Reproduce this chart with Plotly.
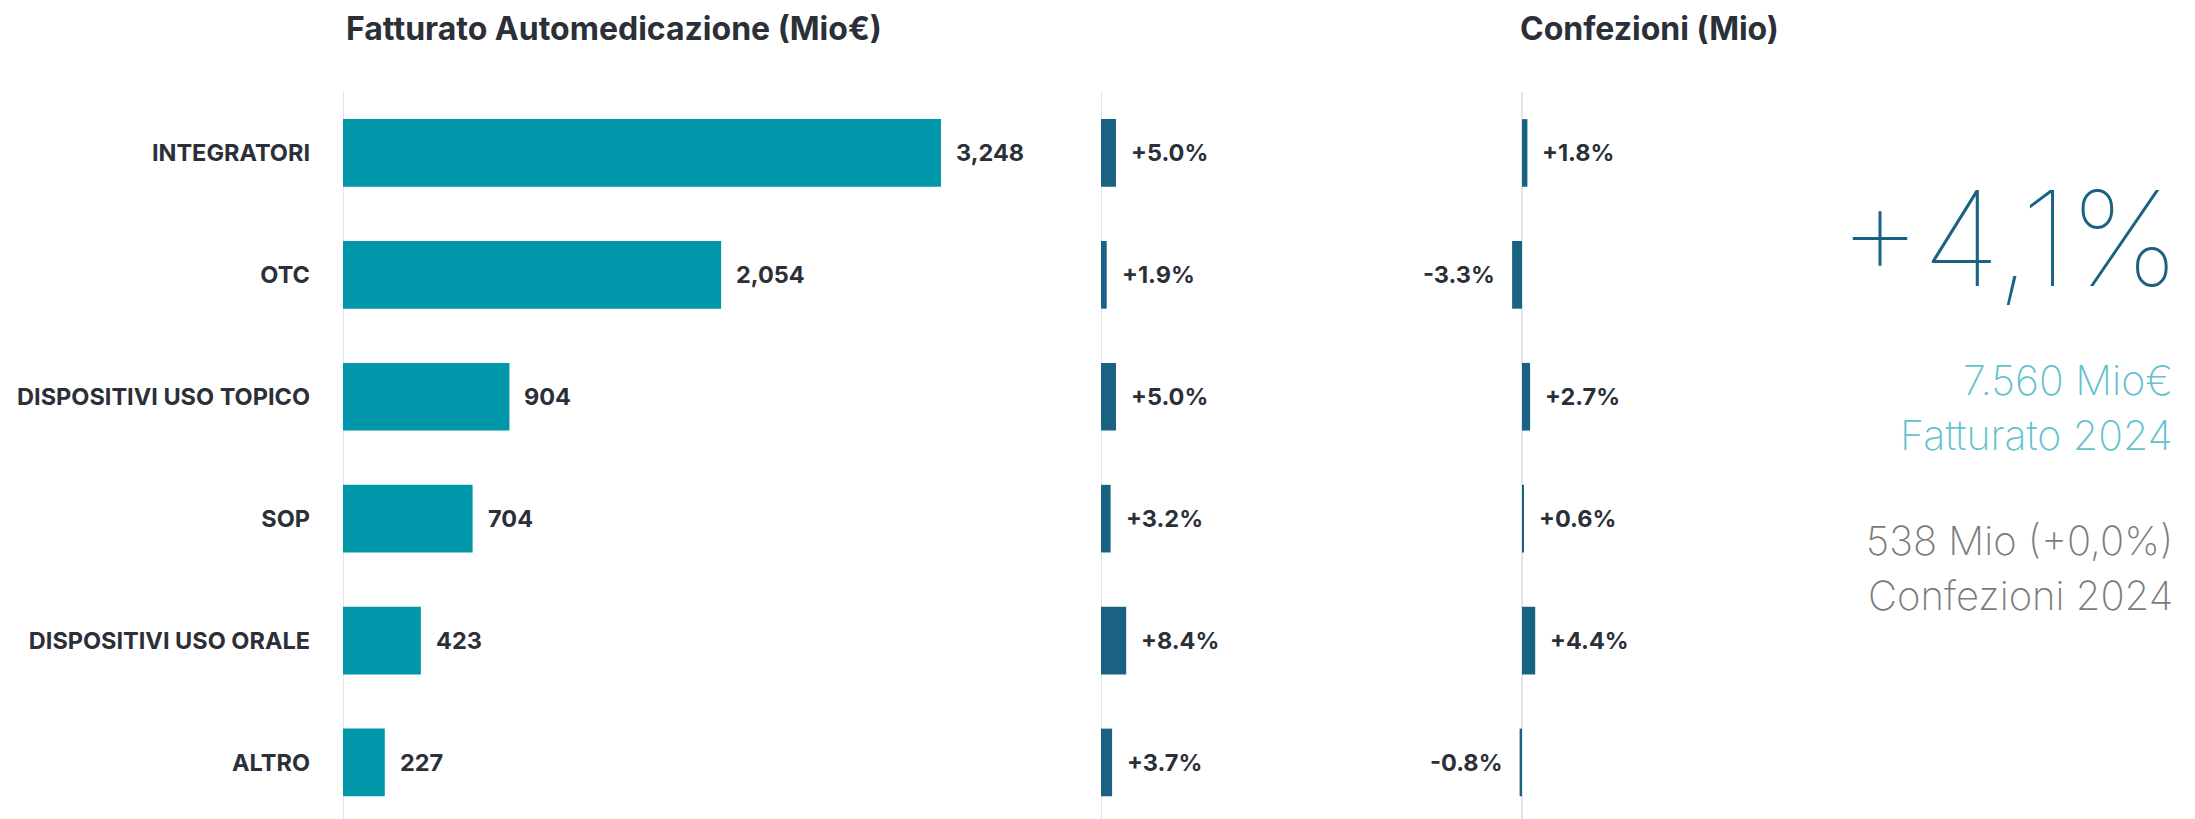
import plotly.graph_objects as go

# ---------------- data ----------------
categories = ["INTEGRATORI", "OTC", "DISPOSITIVI USO TOPICO", "SOP",
              "DISPOSITIVI USO ORALE", "ALTRO"]
fatturato = [3248, 2054, 904, 704, 423, 227]            # Mio€
fatturato_growth = [5.0, 1.9, 5.0, 3.2, 8.4, 3.7]       # %
confezioni_growth = [1.8, -3.3, 2.7, 0.6, 4.4, -0.8]    # %

title_fatt = "Fatturato Automedicazione (Mio€)"
title_conf = "Confezioni (Mio)"
kpi_main = "+4,1%"
kpi_fatt = ["7.560 Mio€", "Fatturato 2024"]
kpi_conf = ["538 Mio (+0,0%)", "Confezioni 2024"]

# ---------------- style ----------------
W, H = 2195, 819
OFF = 8                      # page body margin offset
TEAL = "#0097aa"
DARK = "#1a6282"
TEXT = "#2b2f38"
LINE = "#e2e4e9"
FONT = "Inter"
LBL = 23.5

TOP = 92 - OFF

def px(v):
    return (v - OFF) / W

def py(v):
    return (H - (v - OFF)) / (H - TOP)

p1 = (343, 1060, 0.1841)     # left px, right px, px per unit
p2 = (1101, 1400, 3.0)
p3_zero, p3 = 1522, (1420, 1800, 3.0)

fig = go.Figure()

fig.add_trace(go.Bar(y=categories, x=fatturato, orientation="h",
                     marker=dict(color=TEAL, line=dict(width=0)),
                     width=0.555, xaxis="x", yaxis="y", hoverinfo="skip"))
fig.add_trace(go.Bar(y=categories, x=fatturato_growth, orientation="h",
                     marker=dict(color=DARK, line=dict(width=0)),
                     width=0.555, xaxis="x2", yaxis="y2", hoverinfo="skip"))
fig.add_trace(go.Bar(y=categories, x=confezioni_growth, orientation="h",
                     marker=dict(color=DARK, line=dict(width=0)),
                     width=0.555, xaxis="x3", yaxis="y3", hoverinfo="skip"))

annotations = []
def lab(x, y, text, xref, yref):
    pos = x >= 0
    annotations.append(dict(x=x, y=y, xref=xref, yref=yref, text=text,
                            showarrow=False, xanchor="left" if pos else "right",
                            xshift=13 if pos else -15, yanchor="middle",
                            font=dict(family=FONT, size=LBL, color=TEXT, weight=700)))

for c, v in zip(categories, fatturato):
    lab(v, c, f"{v:,}", "x", "y")
for c, v in zip(categories, fatturato_growth):
    lab(v, c, f"{v:+.1f}%", "x2", "y2")
for c, v in zip(categories, confezioni_growth):
    lab(v, c, f"{v:+.1f}%", "x3", "y3")

# titles
for txt, xl in [(title_fatt, 346), (title_conf, 1520)]:
    annotations.append(dict(x=px(xl), y=py(28), xref="paper", yref="paper",
                            text=txt, showarrow=False, xanchor="left", yanchor="middle",
                            borderpad=0, borderwidth=0,
                            font=dict(family=FONT, size=32, color=TEXT, weight=700)))

# KPI texts
annotations.append(dict(x=px(2183), y=py(238), xref="paper", yref="paper", text=kpi_main,
                        showarrow=False, xanchor="right", yanchor="middle",
                        font=dict(family=FONT, size=132, color=DARK, weight=100)))
RX = px(2175)
for t, yc in zip(kpi_fatt, [380, 435]):
    annotations.append(dict(x=RX, y=py(yc), xref="paper", yref="paper",
                            text=t, showarrow=False, xanchor="right", yanchor="middle",
                            font=dict(family=FONT, size=41, color="#62c2ce", weight=200)))
for t, yc in zip(kpi_conf, [540, 595]):
    annotations.append(dict(x=RX, y=py(yc), xref="paper", yref="paper",
                            text=t, showarrow=False, xanchor="right", yanchor="middle",
                            font=dict(family=FONT, size=40, color="#7b7b7b", weight=200)))

# vertical baseline lines
shapes = []
for xr in ["x", "x2", "x3"]:
    shapes.append(dict(type="line", xref=xr, x0=0, x1=0, yref="y domain", y0=0, y1=1,
                       line=dict(color=LINE, width=2), layer="below"))

yr = [-0.5 + (H - TOP) / 121.9, -0.5]
yax = dict(type="category", range=yr, showgrid=False, zeroline=False,
           showline=False, ticks="", fixedrange=True)

fig.update_layout(
    width=W, height=H,
    margin=dict(l=0, r=0, t=TOP, b=0, autoexpand=False),
    paper_bgcolor="white", plot_bgcolor="white",
    showlegend=False, barmode="overlay",
    font=dict(family=FONT, color=TEXT),
    xaxis=dict(domain=[px(p1[0]), px(p1[1])], range=[0, (p1[1] - p1[0]) / p1[2]],
               showgrid=False, zeroline=False, showticklabels=False, fixedrange=True),
    xaxis2=dict(domain=[px(p2[0]), px(p2[1])], range=[0, (p2[1] - p2[0]) / p2[2]],
                showgrid=False, zeroline=False, showticklabels=False, fixedrange=True),
    xaxis3=dict(domain=[px(p3[0]), px(p3[1])],
                range=[-(p3_zero - p3[0]) / p3[2], (p3[1] - p3_zero) / p3[2]],
                showgrid=False, zeroline=False, showticklabels=False, fixedrange=True),
    yaxis=dict(**yax, anchor="x", showticklabels=True, ticklabelstandoff=32,
               tickfont=dict(family=FONT, size=LBL, color=TEXT, weight=700)),
    yaxis2=dict(**yax, anchor="x2", showticklabels=False),
    yaxis3=dict(**yax, anchor="x3", showticklabels=False),
    annotations=annotations,
    shapes=shapes,
)

fig.write_html("out.html")
